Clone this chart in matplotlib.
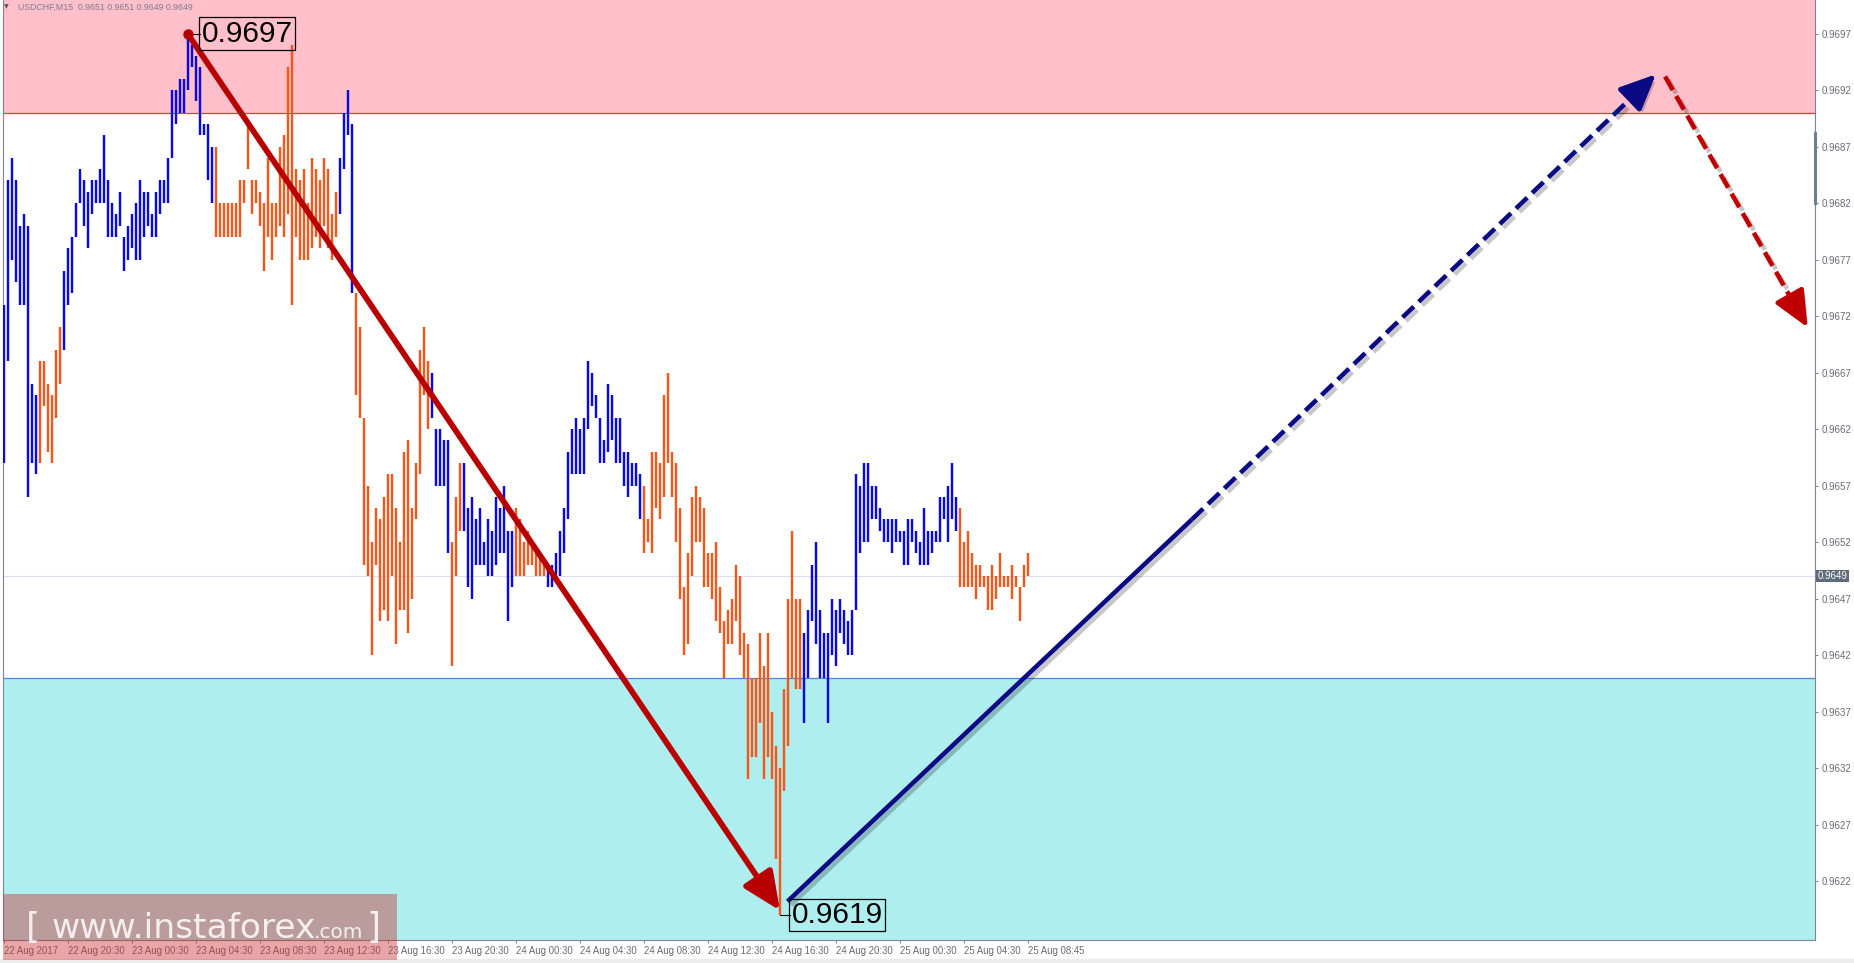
import numpy as np
import matplotlib
matplotlib.use('Agg')
from matplotlib import pyplot as plt
from matplotlib import patheffects as pe
from matplotlib.patches import Rectangle
from matplotlib.lines import Line2D
import matplotlib.transforms as mtransforms

plt.rcParams['font.family'] = ['Liberation Sans', 'DejaVu Sans']

# --------------- USDCHF M15 bars (high / low / up-down) ---------------

highs = [
    0.9673, 0.9684, 0.9686, 0.9684, 0.9680, 0.9681, 0.9680, 0.9666, 0.9665, 0.9668, 0.9668, 0.9666, 0.9665, 0.9669, 0.9671, 0.9676,
    0.9678, 0.9679, 0.9682, 0.9685, 0.9684, 0.9683, 0.9684, 0.9684, 0.9685, 0.9688, 0.9684, 0.9682, 0.9681, 0.9683, 0.9679, 0.9680,
    0.9681, 0.9682, 0.9684, 0.9683, 0.9683, 0.9681, 0.9683, 0.9684, 0.9684, 0.9686, 0.9692, 0.9692, 0.9693, 0.9693, 0.9697, 0.9696,
    0.9695, 0.9694, 0.9689, 0.9689, 0.9687, 0.9687, 0.9682, 0.9682, 0.9682, 0.9682, 0.9682, 0.9684, 0.9684, 0.9689, 0.9684, 0.9684,
    0.9683, 0.9682, 0.9686, 0.9682, 0.9682, 0.9687, 0.9688, 0.9694, 0.9696, 0.9685, 0.9684, 0.9685, 0.9682, 0.9686, 0.9685, 0.9684,
    0.9686, 0.9685, 0.9681, 0.9683, 0.9686, 0.9690, 0.9692, 0.9689, 0.9674, 0.9671, 0.9663, 0.9657, 0.9652, 0.9655, 0.9654, 0.9656,
    0.9658, 0.9658, 0.9655, 0.9652, 0.9660, 0.9661, 0.9655, 0.9659, 0.9669, 0.9671, 0.9668, 0.9667, 0.9662, 0.9662, 0.9661, 0.9661,
    0.9652, 0.9656, 0.9659, 0.9659, 0.9655, 0.9656, 0.9654, 0.9655, 0.9652, 0.9654, 0.9653, 0.9656, 0.9655, 0.9657, 0.9653, 0.9653,
    0.9655, 0.9654, 0.9652, 0.9653, 0.9652, 0.9651, 0.9651, 0.9650, 0.9650, 0.9650, 0.9651, 0.9653, 0.9655, 0.9660, 0.9662, 0.9663,
    0.9662, 0.9663, 0.9668, 0.9667, 0.9665, 0.9663, 0.9661, 0.9666, 0.9665, 0.9663, 0.9663, 0.9660, 0.9660, 0.9659, 0.9659, 0.9658,
    0.9657, 0.9654, 0.9660, 0.9660, 0.9659, 0.9665, 0.9667, 0.9660, 0.9659, 0.9655, 0.9648, 0.9651, 0.9656, 0.9657, 0.9656, 0.9655,
    0.9651, 0.9651, 0.9652, 0.9648, 0.9645, 0.9646, 0.9647, 0.9650, 0.9649, 0.9644, 0.9643, 0.9640, 0.9640, 0.9644, 0.9641, 0.9644,
    0.9637, 0.9634, 0.9632, 0.9639, 0.9647, 0.9653, 0.9647, 0.9647, 0.9644, 0.9646, 0.9650, 0.9652, 0.9646, 0.9644, 0.9644, 0.9647,
    0.9646, 0.9647, 0.9646, 0.9645, 0.9646, 0.9658, 0.9657, 0.9659, 0.9659, 0.9657, 0.9657, 0.9655, 0.9654, 0.9654, 0.9654, 0.9654,
    0.9653, 0.9653, 0.9654, 0.9654, 0.9653, 0.9652, 0.9655, 0.9653, 0.9653, 0.9653, 0.9656, 0.9656, 0.9657, 0.9659, 0.9656, 0.9655,
    0.9652, 0.9653, 0.9651, 0.9650, 0.9650, 0.9649, 0.9649, 0.9650, 0.9649, 0.9651, 0.9649, 0.9649, 0.9650, 0.9649, 0.9648, 0.9650,
    0.9651,
]

lows = [
    0.9659, 0.9668, 0.9677, 0.9675, 0.9673, 0.9673, 0.9656, 0.9659, 0.9658, 0.9659, 0.9664, 0.9660, 0.9659, 0.9663, 0.9666, 0.9669,
    0.9673, 0.9674, 0.9679, 0.9682, 0.9680, 0.9678, 0.9681, 0.9682, 0.9682, 0.9682, 0.9679, 0.9679, 0.9679, 0.9680, 0.9676, 0.9677,
    0.9678, 0.9677, 0.9677, 0.9679, 0.9680, 0.9679, 0.9679, 0.9681, 0.9682, 0.9682, 0.9686, 0.9689, 0.9690, 0.9690, 0.9692, 0.9694,
    0.9691, 0.9688, 0.9688, 0.9684, 0.9682, 0.9679, 0.9679, 0.9679, 0.9679, 0.9679, 0.9679, 0.9679, 0.9682, 0.9685, 0.9681, 0.9682,
    0.9680, 0.9676, 0.9679, 0.9677, 0.9679, 0.9680, 0.9679, 0.9681, 0.9673, 0.9679, 0.9677, 0.9677, 0.9677, 0.9678, 0.9679, 0.9678,
    0.9680, 0.9678, 0.9677, 0.9679, 0.9681, 0.9685, 0.9688, 0.9674, 0.9665, 0.9663, 0.9650, 0.9649, 0.9642, 0.9650, 0.9645, 0.9646,
    0.9645, 0.9649, 0.9643, 0.9646, 0.9646, 0.9644, 0.9647, 0.9654, 0.9658, 0.9665, 0.9662, 0.9663, 0.9657, 0.9657, 0.9657, 0.9651,
    0.9641, 0.9649, 0.9653, 0.9653, 0.9648, 0.9647, 0.9650, 0.9650, 0.9650, 0.9649, 0.9649, 0.9650, 0.9651, 0.9651, 0.9645, 0.9648,
    0.9649, 0.9649, 0.9649, 0.9650, 0.9650, 0.9649, 0.9649, 0.9649, 0.9648, 0.9648, 0.9649, 0.9649, 0.9651, 0.9654, 0.9658, 0.9658,
    0.9658, 0.9658, 0.9662, 0.9664, 0.9663, 0.9659, 0.9659, 0.9660, 0.9661, 0.9659, 0.9659, 0.9657, 0.9656, 0.9657, 0.9657, 0.9654,
    0.9651, 0.9652, 0.9651, 0.9655, 0.9654, 0.9656, 0.9659, 0.9656, 0.9652, 0.9647, 0.9642, 0.9643, 0.9649, 0.9652, 0.9652, 0.9648,
    0.9648, 0.9647, 0.9645, 0.9644, 0.9640, 0.9643, 0.9643, 0.9645, 0.9642, 0.9640, 0.9631, 0.9633, 0.9633, 0.9636, 0.9631, 0.9633,
    0.9631, 0.9624, 0.9619, 0.9630, 0.9634, 0.9640, 0.9639, 0.9639, 0.9636, 0.9640, 0.9645, 0.9643, 0.9640, 0.9640, 0.9636, 0.9642,
    0.9641, 0.9644, 0.9643, 0.9642, 0.9642, 0.9646, 0.9651, 0.9652, 0.9652, 0.9654, 0.9654, 0.9653, 0.9652, 0.9652, 0.9651, 0.9652,
    0.9652, 0.9650, 0.9650, 0.9652, 0.9651, 0.9650, 0.9650, 0.9650, 0.9651, 0.9652, 0.9652, 0.9654, 0.9652, 0.9654, 0.9653, 0.9648,
    0.9648, 0.9648, 0.9648, 0.9647, 0.9648, 0.9648, 0.9646, 0.9646, 0.9647, 0.9648, 0.9648, 0.9648, 0.9647, 0.9648, 0.9645, 0.9648,
    0.9649,
]

# u = bullish bar (blue), d = bearish bar (orange)
direction = (
    'uuuuuuuuuddddddu'
    'uuuuuuuuuuuuuuuu'
    'uuuuuuuuuuuuuuuu'
    'uuuuuddddddddddd'
    'dddddddddddddddd'
    'dddduuuudddddddd'
    'ddddddddddduuuuu'
    'ddduuuuuuuuuuuuu'
    'dddddddduuuuuuuu'
    'uuuuuuuuuuuuuuuu'
    'dddddddddddddddd'
    'dddddddddddddddd'
    'dddddddduuuuuuuu'
    'uuuuuuuuuuuuuuuu'
    'uuuuuuuuuuuuuuud'
    'dddddddddddddddd'
    'd'
)

time_labels = ['22 Aug 2017', '22 Aug 20:30', '23 Aug 00:30', '23 Aug 04:30', '23 Aug 08:30',
               '23 Aug 12:30', '23 Aug 16:30', '23 Aug 20:30', '24 Aug 00:30', '24 Aug 04:30',
               '24 Aug 08:30', '24 Aug 12:30', '24 Aug 16:30', '24 Aug 20:30', '25 Aug 00:30',
               '25 Aug 04:30', '25 Aug 08:45']
label_bars = [0, 16, 32, 48, 64, 80, 96, 112, 128, 144, 160, 176, 192, 208, 224, 240, 256]

price_ticks = [0.9697, 0.9692, 0.9687, 0.9682, 0.9677, 0.9672, 0.9667, 0.9662,
               0.9657, 0.9652, 0.9647, 0.9642, 0.9637, 0.9632, 0.9627, 0.9622]

resistance_zone = [0.9690, 0.9710]
support_zone = [0.9600, 0.9640]
last_price = 0.9649
header = 'USDCHF,M15  0.9651 0.9651 0.9649 0.9649'

# wave markup (bar index, price)
wave_high = (46, 0.9697)
wave_low = (194, 0.9619)
red_arrow_tip = (194.1, 0.96194)
blue_start = (196, 0.96202)
blue_mid = (297.1, 0.96540)
blue_target = (413.1, 0.96934)
red_start = (415.4, 0.96932)
red_target = (451.0, 0.96710)

# --------------- chart ---------------

W, H = 1854, 963
fig = plt.figure(figsize=(W / 100, H / 100), dpi=100)
fig.patch.set_facecolor('white')
ax = fig.add_axes([3 / W, 23 / H, 1812 / W, 940 / H])
ax.set_xlim(-0.125, 452.875)
ax.set_ylim(0.961679, 0.969997)

# zones
ax.axhspan(resistance_zone[0], resistance_zone[1], color='#ffc0cb', lw=0, zorder=0)
ax.axhline(resistance_zone[0], color='#e03a3a', lw=0.9, zorder=1)
ax.axhspan(support_zone[0], support_zone[1], color='#afeeee', lw=0, zorder=0)
ax.axhline(support_zone[1], color='#4a86d8', lw=0.9, zorder=1)
ax.axhline(last_price, color='#dcdcf0', lw=0.8, zorder=1)

# bars
x = np.arange(len(highs))
bar_colors = ['#0a0adc' if d == 'u' else '#f0581c' for d in direction]
ax.vlines(x, lows, highs, colors=bar_colors, linewidth=1.75, zorder=3)

# wave arrows
shadow_line = [pe.SimpleLineShadow(offset=(2.5, -2.5), shadow_color='#000000', alpha=0.22), pe.Normal()]
shadow_patch = [pe.withSimplePatchShadow(offset=(2.5, -2.5), shadow_rgbFace='#000000', alpha=0.22)]

red = '#b80000'
navy = '#0a0a84'
head = '-|>,head_length=1.0,head_width=0.45'


def back_from(tip, start, dist_px):
    # point on the segment start->tip, dist_px pixels before the tip
    p_tip = ax.transData.transform(tip)
    p_start = ax.transData.transform(start)
    d = p_start - p_tip
    d = d / np.hypot(*d)
    return tuple(ax.transData.inverted().transform(p_tip + d * dist_px))


def dashed_arrow(start, tip, color, lw, scale):
    head_px = scale * 100 / 72
    shaft_end = back_from(tip, start, head_px * 0.8)
    ax.plot([start[0], shaft_end[0]], [start[1], shaft_end[1]], color=color, lw=lw,
            linestyle=(0, (3.4, 1.5)), dash_capstyle='butt', zorder=6, path_effects=shadow_line)
    a = ax.annotate('', xy=tip, xytext=back_from(tip, start, head_px + 1.5),
                    arrowprops=dict(arrowstyle=head, mutation_scale=scale, lw=lw, color=color,
                                    shrinkA=0, shrinkB=0), zorder=6)
    a.arrow_patch.set_path_effects(shadow_patch)


a1 = ax.annotate('', xy=red_arrow_tip, xytext=wave_high,
                 arrowprops=dict(arrowstyle=head, mutation_scale=23,
                                 lw=4.2, color=red, shrinkA=0, shrinkB=0), zorder=6)
a1.arrow_patch.set_path_effects(shadow_patch)
ax.plot(*wave_high, marker='o', ms=6.5, color=red, zorder=7)

ax.plot([blue_start[0], blue_mid[0]], [blue_start[1], blue_mid[1]], color=navy, lw=3.3,
        solid_capstyle='butt', zorder=6, path_effects=shadow_line)
dashed_arrow(blue_mid, blue_target, navy, 3.3, 22)
dashed_arrow(red_start, red_target, '#c00000', 3.3, 22)

# price labels at the wave extremes
ax.plot([wave_high[0], 49.2], [wave_high[1], wave_high[1]], color='black', lw=0.8, zorder=5)
ax.text(49.5, wave_high[1], f'{wave_high[1]:.4f}', fontsize=21.5, ha='left', va='center', color='black',
        bbox=dict(boxstyle='square,pad=0.08', fc='none', ec='black', lw=0.9), zorder=8)
ax.plot([wave_low[0], 196.7], [wave_low[1], wave_low[1]], color='black', lw=0.8, zorder=5)
ax.text(197.0, wave_low[1], f'{wave_low[1]:.4f}', fontsize=21.5, ha='left', va='center', color='black',
        bbox=dict(boxstyle='square,pad=0.08', fc='none', ec='black', lw=0.9), zorder=8)

# axes styling (MT4 look)
axis_gray = '#7a8494'
for side in ['left', 'right', 'bottom']:
    ax.spines[side].set_color(axis_gray)
    ax.spines[side].set_linewidth(0.8)
ax.spines['top'].set_visible(False)

ax.yaxis.tick_right()
ax.set_yticks(price_ticks)
ax.set_yticklabels([f'{p:.4f}' for p in price_ticks])
ax.tick_params(axis='y', length=2.5, width=0.7, color=axis_gray, labelcolor='#6a6a7a', labelsize=7, pad=2)

ax.set_xticks(label_bars)
ax.set_xticklabels(time_labels)
for lbl in ax.get_xticklabels():
    lbl.set_horizontalalignment('left')
ax.tick_params(axis='x', length=2.5, width=0.7, color=axis_gray, labelcolor='#6a6a7a', labelsize=6.9, pad=1.5)

# last price tag on the scale
trans = mtransforms.blended_transform_factory(ax.transAxes, ax.transData)
ax.text(1.0015, last_price, f'{last_price:.4f}', transform=trans, fontsize=7, color='white',
        ha='left', va='center', clip_on=False, zorder=9,
        bbox=dict(boxstyle='square,pad=0.15', fc='#5f6b78', ec='none'))

# scroll marker on the price scale
fig.add_artist(Line2D([1815 / W, 1815 / W], [(H - 133) / H, (H - 203) / H], color='#708090', lw=2.2))

# header
fig.text(4 / W, (H - 7) / H, '\u25bc', fontsize=4.5, color='#555560', va='center', family=['DejaVu Sans'])
fig.text(18 / W, (H - 7) / H, header, fontsize=6.3, color='#7c7c8c', va='center')

# bottom status strip
fig.add_artist(Rectangle((0, 0), 1, 4 / H, transform=fig.transFigure, color='#ececec', zorder=1))

# watermark
fig.add_artist(Rectangle((3 / W, 3 / H), 394 / W, 66 / H, transform=fig.transFigure,
                         color='#cc2c2c', alpha=0.42, lw=0, zorder=5))
wm = '#f4eeee'
base = 25 / H
fig.text(26 / W, base, '[', fontsize=26, color=wm, va='baseline', family=['DejaVu Sans'], zorder=6)
fig.text(52 / W, base, 'www.instaforex', fontsize=24.8, color=wm, va='baseline', family=['DejaVu Sans'], zorder=6)
fig.text(314 / W, base, '.com', fontsize=14.5, color=wm, va='baseline', family=['DejaVu Sans'], zorder=6)
fig.text(366 / W, base, ']', fontsize=26, color=wm, va='baseline', family=['DejaVu Sans'], zorder=6)

plt.savefig('out.png', dpi=100)
